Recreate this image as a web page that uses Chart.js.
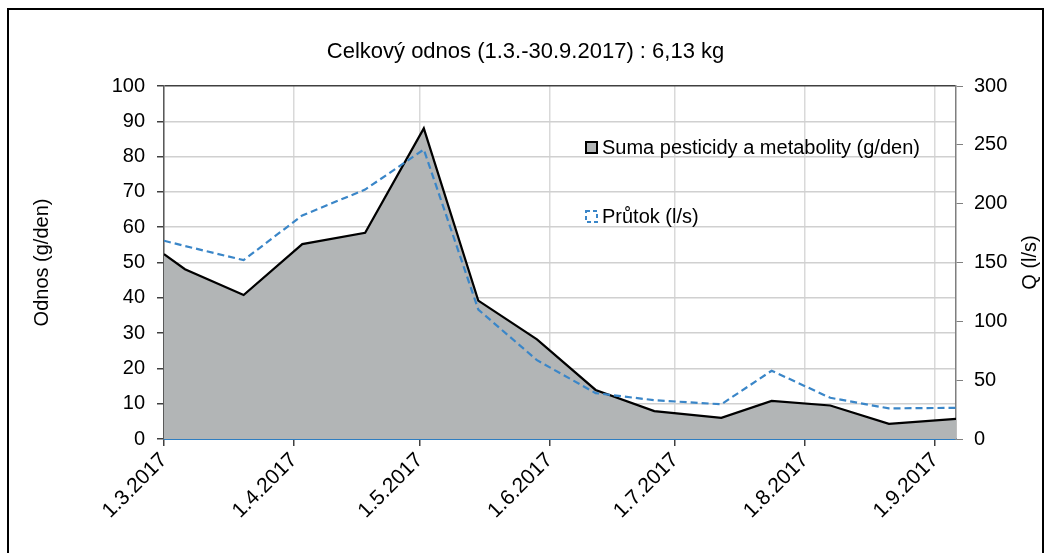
<!DOCTYPE html>
<html>
<head>
<meta charset="utf-8">
<script src="https://cdn.jsdelivr.net/npm/chart.js@4"></script>
<style>
  body { margin: 0; background: #fff; }
  #wrap { width: 1051px; height: 553px; }
</style>
</head>
<body>
<div id="wrap"><canvas id="odnosChart" width="1051" height="553"></canvas></div>
<script>
const dates = ["1.3.2017", "6.3.2017", "20.3.2017", "3.4.2017", "18.4.2017", "2.5.2017", "15.5.2017",
    "29.5.2017", "12.6.2017", "26.6.2017", "12.7.2017", "24.7.2017", "7.8.2017", "21.8.2017", "6.9.2017"];
const odnos = [52.4, 48.1, 40.8, 55.2, 58.4, 88.0, 39.2, 28.2, 13.9, 7.9, 6.0, 10.8, 9.5, 4.3, 5.7];
const prutok = [168.5, 164, 152, 190, 212, 246, 110, 67, 39, 33, 29.5, 58, 35, 26, 26.5];
const tickLabels = ["1.3.2017", "1.4.2017", "1.5.2017", "1.6.2017", "1.7.2017", "1.8.2017", "1.9.2017"];

const FONT = "'Liberation Sans', Arial, sans-serif";

// days since 1.3.2017
function toDay(s) {
    const p = s.split(".").map(Number);
    return Math.round((Date.UTC(p[2], p[1] - 1, p[0]) - Date.UTC(2017, 2, 1)) / 86400000);
}

const xs = dates.map(toDay);
const tickDays = tickLabels.map(toDay);
const labelByDay = new Map();
tickDays.forEach((d, i) => labelByDay.set(d, tickLabels[i]));

const frame = {
    id: "frame",
    beforeDraw(chart) {
        const ctx = chart.ctx;
        ctx.save();
        ctx.fillStyle = "#fff";
        ctx.fillRect(0, 0, chart.width, chart.height);
        ctx.strokeStyle = "#000";
        ctx.lineWidth = 2;
        ctx.strokeRect(8, 9, 1035, 560);
        ctx.restore();
    },
    afterDraw(chart) {
        const ctx = chart.ctx;
        const area = chart.chartArea;
        ctx.save();
        // right axis title, reading bottom to top
        ctx.translate(1030, (area.top + area.bottom) / 2);
        ctx.rotate(-Math.PI / 2);
        ctx.fillStyle = "#000";
        ctx.font = "20px " + FONT;
        ctx.textAlign = "center";
        ctx.textBaseline = "middle";
        ctx.fillText("Q (l/s)", 0, 0);
        ctx.restore();

        // legend inside the plot
        const ds = chart.data.datasets;
        ctx.save();
        ctx.font = "20px " + FONT;
        ctx.textBaseline = "middle";
        const lx = 586, ly = [148, 217];
        ctx.fillStyle = ds[0].backgroundColor;
        ctx.fillRect(lx, ly[0] - 6, 11, 11);
        ctx.strokeStyle = "#000";
        ctx.lineWidth = 2;
        ctx.strokeRect(lx, ly[0] - 6, 11, 11);
        ctx.strokeStyle = ds[1].borderColor;
        ctx.setLineDash([4, 3]);
        ctx.strokeRect(lx, ly[1] - 6, 11, 11);
        ctx.setLineDash([]);
        ctx.fillStyle = "#000";
        ctx.fillText(ds[0].label, lx + 16, ly[0]);
        ctx.fillText(ds[1].label, lx + 16, ly[1]);
        ctx.restore();
    }
};

const ctx = document.getElementById("odnosChart").getContext("2d");
const chart = new Chart(ctx, {
    type: "line",
    data: {
        datasets: [{
            label: "Suma pesticidy a metabolity (g/den)",
            data: xs.map((x, i) => ({ x: x, y: odnos[i] })),
            borderColor: "#000",
            borderWidth: 2.2,
            backgroundColor: "#b2b5b6",
            fill: "origin",
            pointRadius: 0,
            tension: 0,
            yAxisID: "y",
            order: 1
        }, {
            label: "Průtok (l/s)",
            data: xs.map((x, i) => ({ x: x, y: prutok[i] })),
            borderColor: "#3a86c8",
            borderWidth: 2.2,
            borderDash: [7, 4],
            fill: false,
            pointRadius: 0,
            tension: 0,
            yAxisID: "y1",
            order: 0
        }]
    },
    options: {
        responsive: false,
        animation: false,
        layout: { padding: 0 },
        plugins: {
            legend: { display: false },
            tooltip: { enabled: false },
            title: {
                display: true,
                text: "Celkový odnos (1.3.-30.9.2017) : 6,13 kg",
                color: "#000",
                font: { family: FONT, size: 22, weight: "normal", lineHeight: 1.2 },
                padding: { top: 39, bottom: 20.6 }
            }
        },
        scales: {
            x: {
                type: "linear",
                min: 0,
                max: xs[xs.length - 1],
                afterFit: s => { s.height = 114; },
                afterBuildTicks: s => { s.ticks = tickDays.map(d => ({ value: d })); },
                ticks: {
                    autoSkip: false,
                    minRotation: 45,
                    maxRotation: 45,
                    padding: 2,
                    color: "#000",
                    font: { family: FONT, size: 21 },
                    callback: v => labelByDay.get(v) || ""
                },
                grid: {
                    color: "#d9d9d9",
                    lineWidth: 1.5,
                    tickLength: 7,
                    tickColor: "#404040"
                },
                border: { color: "#2f7ec1", width: 2 }
            },
            y: {
                position: "left",
                min: 0,
                max: 100,
                afterFit: s => { s.width = 164; },
                ticks: {
                    stepSize: 10,
                    padding: 12,
                    color: "#000",
                    font: { family: FONT, size: 20 }
                },
                grid: {
                    color: ctx => ctx.tick && ctx.tick.value === 100 ? "#404040" : "#d0d0d0",
                    lineWidth: 1.5,
                    tickLength: 7,
                    tickColor: "#404040"
                },
                border: { color: "#595959", width: 1.5 },
                title: {
                    display: true,
                    text: "Odnos (g/den)",
                    color: "#000",
                    font: { family: FONT, size: 20 },
                    padding: { top: 30, bottom: 0 }
                }
            },
            y1: {
                position: "right",
                min: 0,
                max: 300,
                afterFit: s => { s.width = 95; },
                ticks: {
                    stepSize: 50,
                    padding: 11,
                    color: "#000",
                    font: { family: FONT, size: 20 }
                },
                grid: {
                    drawOnChartArea: false,
                    tickLength: 7,
                    tickColor: "#7f7f7f"
                },
                border: { color: "#7f7f7f", width: 1.5 }
            }
        }
    },
    plugins: [frame]
});
</script>
</body>
</html>
